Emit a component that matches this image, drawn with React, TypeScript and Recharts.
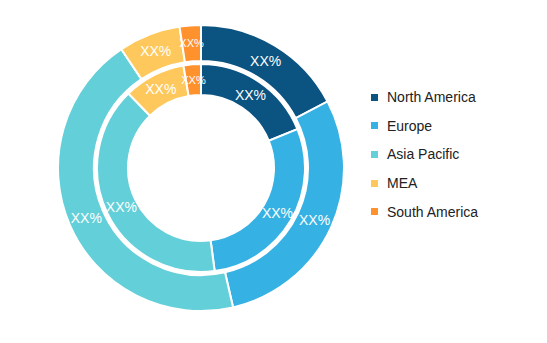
import React from "react";
import { PieChart, Pie, Cell, Legend } from "recharts";

const categories = ["North America", "Europe", "Asia Pacific", "MEA", "South America"];
const colors = ["#0B5381", "#36B1E3", "#63CFD8", "#FFC85C", "#FF922C"];
const innerValues = [18.9, 29.0, 39.8, 9.6, 2.7];
const outerValues = [17.3, 29.1, 44.2, 7.0, 2.4];
const labelText = ["XX%", "XX%", "XX%", "XX%", "XX%"];

const innerData = categories.map((name, i) => ({ name, value: innerValues[i], label: labelText[i] }));
const outerData = categories.map((name, i) => ({ name, value: outerValues[i], label: labelText[i] }));

const RADIAN = Math.PI / 180;
const FONT = "'Liberation Sans', Arial, sans-serif";

const renderLabel = (props: any) => {
  const { cx, cy, midAngle, innerRadius, outerRadius, payload, index } = props;
  const r = (innerRadius + outerRadius) / 2;
  const x = cx + r * Math.cos(-midAngle * RADIAN);
  const y = cy + r * Math.sin(-midAngle * RADIAN);
  const small = index === 4;
  return (
    <text
      x={x}
      y={y}
      fill="#ffffff"
      textAnchor="middle"
      dominantBaseline="central"
      fontSize={small ? 11 : 14}
      fontFamily={FONT}
    >
      {payload.label}
    </text>
  );
};

const LegendContent = () => (
  <div style={{ fontFamily: FONT, fontSize: 14, color: "#222" }}>
    {categories.map((c, i) => (
      <div key={c} style={{ display: "flex", alignItems: "center", height: 28.6 }}>
        <span
          style={{
            display: "inline-block",
            width: 7,
            height: 7,
            background: colors[i],
            marginRight: 9,
          }}
        />
        <span>{c}</span>
      </div>
    ))}
  </div>
);

export default function App() {
  return (
    <div style={{ width: 547, height: 343, background: "#fff" }}>
      <style>{`body{margin:0}`}</style>
      <PieChart width={547} height={343} margin={{ top: 0, right: 0, bottom: 0, left: 0 }}>
        <Pie
          data={innerData}
          dataKey="value"
          nameKey="name"
          cx={201}
          cy={168}
          innerRadius={73}
          outerRadius={104}
          startAngle={90}
          endAngle={-270}
          stroke="#ffffff"
          strokeWidth={2}
          label={renderLabel}
          labelLine={false}
          isAnimationActive={false}
        >
          {innerData.map((d, i) => (
            <Cell key={d.name} fill={colors[i]} />
          ))}
        </Pie>
        <Pie
          data={outerData}
          dataKey="value"
          nameKey="name"
          cx={201}
          cy={168}
          innerRadius={107}
          outerRadius={143}
          startAngle={90}
          endAngle={-270}
          stroke="#ffffff"
          strokeWidth={2}
          label={renderLabel}
          labelLine={false}
          isAnimationActive={false}
        >
          {outerData.map((d, i) => (
            <Cell key={d.name} fill={colors[i]} />
          ))}
        </Pie>
        <Legend
          layout="vertical"
          verticalAlign="top"
          align="right"
          content={<LegendContent />}
          wrapperStyle={{ left: 371, top: 83, width: 170 }}
        />
      </PieChart>
    </div>
  );
}
